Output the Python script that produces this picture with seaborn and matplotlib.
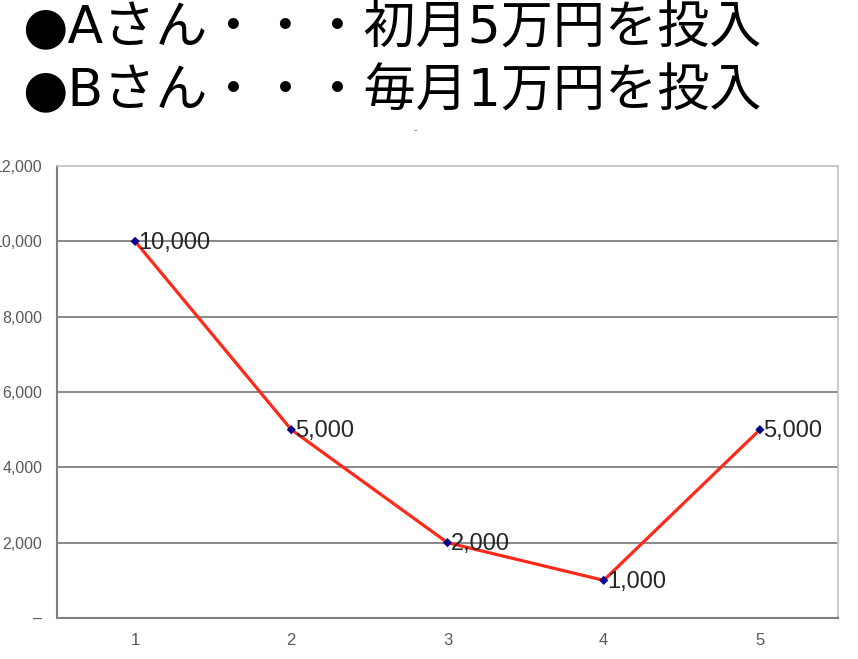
import matplotlib
matplotlib.use("Agg")
import matplotlib.pyplot as plt
import seaborn as sns
import pandas as pd
from matplotlib.ticker import FuncFormatter, FixedLocator
from matplotlib import font_manager

# ---- data ----
months = [1, 2, 3, 4, 5]
amounts = [10000, 5000, 2000, 1000, 5000]
title_lines = ["●Aさん・・・初月5万円を投入", "●Bさん・・・毎月1万円を投入"]
y_ticks = [0, 2000, 4000, 6000, 8000, 10000, 12000]

df = pd.DataFrame({"month": months, "amount": amounts})

sns.set_theme(style="white")
plt.rcParams['font.family'] = ['Noto Sans CJK JP', 'DejaVu Sans']

names = {f.name for f in font_manager.fontManager.ttflist}
narrow = 'Liberation Sans Narrow' if 'Liberation Sans Narrow' in names else 'Liberation Sans'

fig = plt.figure(figsize=(8.58, 6.59), dpi=100)
ax = fig.add_axes([57/858, 1-618/659, (838-57)/858, (618-166)/659])

sns.lineplot(data=df, x="month", y="amount", ax=ax, color="#ff2a1a", lw=2.3, zorder=3)
sns.scatterplot(data=df, x="month", y="amount", ax=ax, color="#00008b", marker="D",
                s=22, edgecolor="none", zorder=4)

ax.set_xlim(0.5, 5.5)
ax.set_ylim(0, 12000)
ax.set_xlabel("")
ax.set_ylabel("")

ax.yaxis.set_major_locator(FixedLocator(y_ticks))
ax.yaxis.set_major_formatter(FuncFormatter(lambda v, p: "–" if v == 0 else f"{int(v):,}"))
ax.set_xticks(months)
ax.set_xticks([m + 0.5 for m in months[:-1]], minor=True)

for v in y_ticks[1:-1]:
    ax.axhline(v, color="#7f7f7f", lw=1.3, zorder=1)

ax.tick_params(axis="y", length=0, pad=10.5, labelsize=11.5, labelcolor="#595959")
ax.tick_params(axis="x", which="major", length=0, pad=11, labelsize=12, labelcolor="#595959")
ax.tick_params(axis="x", which="minor", direction="in", length=6, width=1, color="#808080")
for lab in ax.get_yticklabels() + ax.get_xticklabels():
    lab.set_family([narrow, 'DejaVu Sans'])

for s in ["left", "bottom"]:
    ax.spines[s].set_color("#7f7f7f")
    ax.spines[s].set_linewidth(1.5)
for s in ["top", "right"]:
    ax.spines[s].set_color("#c0c0c0")
    ax.spines[s].set_linewidth(1.2)

for m, a in zip(months, amounts):
    ax.annotate(f"{a:,}", (m, a), xytext=(2.5, -1), textcoords="offset points",
                ha="left", va="center", fontsize=17, color="#262626",
                family=[narrow, 'DejaVu Sans'], zorder=5)

title_family = ['DejaVu Sans', 'Noto Sans CJK JP']
fig.text(22/858, 1-29/659, title_lines[0], fontsize=37.5, color="black",
         ha="left", va="center", family=title_family)
fig.text(22/858, 1-92/659, title_lines[1], fontsize=37.5, color="black",
         ha="left", va="center", family=title_family)
fig.text(415/858, 1-131/659, "-", fontsize=7, color="#606060", ha="center", va="center")

fig.savefig("out.png", dpi=100)
